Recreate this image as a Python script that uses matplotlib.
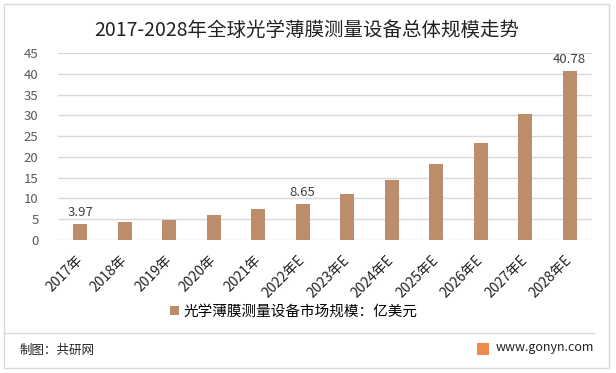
import matplotlib
matplotlib.use('Agg')
import matplotlib.pyplot as plt
from matplotlib.patches import Rectangle

plt.rcParams['font.family'] = ['Noto Sans CJK SC', 'DejaVu Sans']

# data
years = ['2017年', '2018年', '2019年', '2020年', '2021年', '2022年E',
         '2023年E', '2024年E', '2025年E', '2026年E', '2027年E', '2028年E']
values = [3.97, 4.4, 4.8, 6.0, 7.4, 8.65, 11.0, 14.4, 18.3, 23.4, 30.4, 40.78]
labelled = {0: '3.97', 5: '8.65', 11: '40.78'}
yticks = list(range(0, 50, 5))

title = '2017-2028年全球光学薄膜测量设备总体规模走势'
legend_label = '光学薄膜测量设备市场规模：亿美元'
bar_color = '#BB8D6A'

fig = plt.figure(figsize=(6.16, 3.73), dpi=100)
W, H = 616, 373

# outer frame and footer separator
fig.patches.append(Rectangle((4 / W, 5 / H), 605 / W, 364 / H, transform=fig.transFigure,
                             fill=False, edgecolor='#D9D9D9', linewidth=1))
fig.lines.append(plt.Line2D([4 / W, 594 / W], [1 - 333 / H, 1 - 333 / H],
                            transform=fig.transFigure, color='#D9D9D9', linewidth=1))

ax = fig.add_axes([58 / W, 1 - 240 / H, 534 / W, 187 / H])
x = range(len(years))
bars = ax.bar(x, values, width=0.31, color=bar_color, label=legend_label, zorder=3)
for i, txt in labelled.items():
    ax.text(i, values[i] + 1.2, txt, ha='center', va='bottom', fontsize=9.5, color='#404040')

ax.set_xlim(-0.5, len(years) - 0.5)
ax.set_ylim(0, 45)
ax.set_yticks(yticks)
ax.set_yticklabels([str(v) for v in yticks], fontsize=9.5, color='#595959')
ax.set_xticks(list(x))
ax.set_xticklabels(years, rotation=45, ha='right', va='center', rotation_mode='anchor',
                   fontsize=10, color='#222222')
ax.tick_params(axis='both', length=0)
ax.tick_params(axis='y', pad=14)
ax.tick_params(axis='x', pad=13)
ax.grid(axis='y', color='#D9D9D9', linewidth=1, zorder=0)
for s in ax.spines.values():
    s.set_visible(False)

fig.text(307 / W, 1 - 30 / H, title, ha='center', va='center', fontsize=14, color='#222222')
fig.legend(handles=[bars], labels=[legend_label], loc='center',
           bbox_to_anchor=(294 / W, 1 - 312 / H), frameon=False, fontsize=10.5,
           handlelength=0.6, handleheight=0.6, handletextpad=0.3)

fig.text(20 / W, 1 - 350 / H, '制图：共研网', ha='left', va='center', fontsize=9, color='#222222')
fig.patches.append(Rectangle((477 / W, 1 - 355 / H), 12 / W, 12 / H, transform=fig.transFigure,
                             facecolor='#F08A4B', edgecolor='none'))
fig.text(496 / W, 1 - 347 / H, 'www.gonyn.com', ha='left', va='center', fontsize=9, color='#222222')

fig.savefig('out.png', dpi=100)
